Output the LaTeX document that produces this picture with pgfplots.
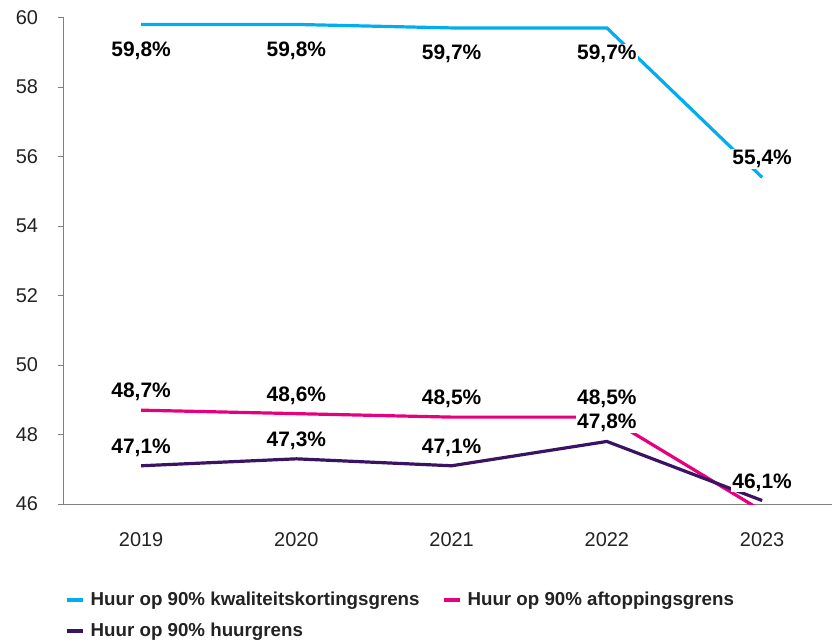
\documentclass[border=0pt]{standalone}
\usepackage{pgfplots}
\pgfplotsset{compat=1.18}
\usepackage{fontspec}
\setmainfont{Liberation Sans}
\definecolor{cblue}{RGB}{0,174,239}
\definecolor{cpink}{RGB}{230,0,126}
\definecolor{cpurple}{RGB}{58,20,98}
\definecolor{axgray}{RGB}{128,128,128}
\definecolor{txt}{RGB}{34,34,34}
\pgfplotsset{lbl/.style={draw=none, mark=none, forget plot,
  nodes near coords={\pgfplotspointmeta\%},
  point meta=explicit symbolic,
  visualization depends on={\thisrow{dy} \as \dy},
  nodes near coords style={anchor=base, yshift=\dy bp, fill=white, inner sep=1bp,
    text=black, font=\bfseries\fontsize{21}{25}\selectfont}}}
\begin{document}
\begin{tikzpicture}
\useasboundingbox (-63.5bp,-138bp) rectangle (768.5bp,504bp);
\begin{axis}[at={(0,0)}, anchor=south west, scale only axis,
  width=768.5bp, height=486.5bp,
  xmin=2018.5, xmax=2023.45, ymin=46, ymax=60,
  axis x line=bottom, axis y line=left,
  axis line style={axgray, line width=0.9bp, -},
  xtick={2019,2020,2021,2022,2023},
  xticklabels={2019,2020,2021,2022,2023},
  ytick={46,48,50,52,54,56,58,60},
  /pgf/number format/assume math mode=true,
  tick label style={font=\fontsize{20}{24}\selectfont, text=txt},
  x tick label style={yshift=-19bp},
  y tick label style={xshift=-16bp},
  tick align=outside, major tick length=6bp,
  tick style={axgray, line width=0.9bp},
  xtick style={draw=none},
  legend columns=2,
  legend cell align=left,
  legend style={at={(0,0)}, anchor=north west, xshift=1bp, yshift=-86bp,
    draw=none, fill=none, inner sep=0pt, row sep=12bp,
    font=\bfseries\fontsize{18.8}{22}\selectfont, text=txt,
    /tikz/every even column/.append style={column sep=20bp}},
  legend image code/.code={\draw[#1, line width=4bp, line cap=butt] (0bp,0bp) -- (16bp,0bp); \path[draw=none] (0bp,0bp) -- (22bp,0bp);},
]
% lines
\addplot[cblue, mark=none, line width=3.2bp] table[x=x, y=y] {
x y
2019 59.8
2020 59.8
2021 59.7
2022 59.7
2023 55.4
};
\addlegendentry{Huur op 90\% kwaliteitskortingsgrens}
\addplot[cpink, mark=none, line width=3.2bp] table[x=x, y=y] {
x y
2019 48.7
2020 48.6
2021 48.5
2022 48.5
2023 45.8
};
\addlegendentry{Huur op 90\% aftoppingsgrens}
\addplot[cpurple, mark=none, line width=3.2bp] table[x=x, y=y] {
x y
2019 47.1
2020 47.3
2021 47.1
2022 47.8
2023 46.1
};
\addlegendentry{Huur op 90\% huurgrens}
% labels
\addplot[lbl] table[x=x, y=y, meta=lab] {
x y lab dy
2019 59.8 59,8 -32
2020 59.8 59,8 -32
2021 59.7 59,7 -32
2022 59.7 59,7 -32
2023 55.4 55,4 12.5
};
\addplot[lbl] table[x=x, y=y, meta=lab] {
x y lab dy
2019 48.7 48,7 12.5
2020 48.6 48,6 12.5
2021 48.5 48,5 12.5
2022 48.5 48,5 12.5
};
\addplot[lbl] table[x=x, y=y, meta=lab] {
x y lab dy
2019 47.1 47,1 12.5
2020 47.3 47,3 12.5
2021 47.1 47,1 12.5
2022 47.8 47,8 12.5
2023 46.1 46,1 12.5
};
\end{axis}
\end{tikzpicture}
\end{document}
